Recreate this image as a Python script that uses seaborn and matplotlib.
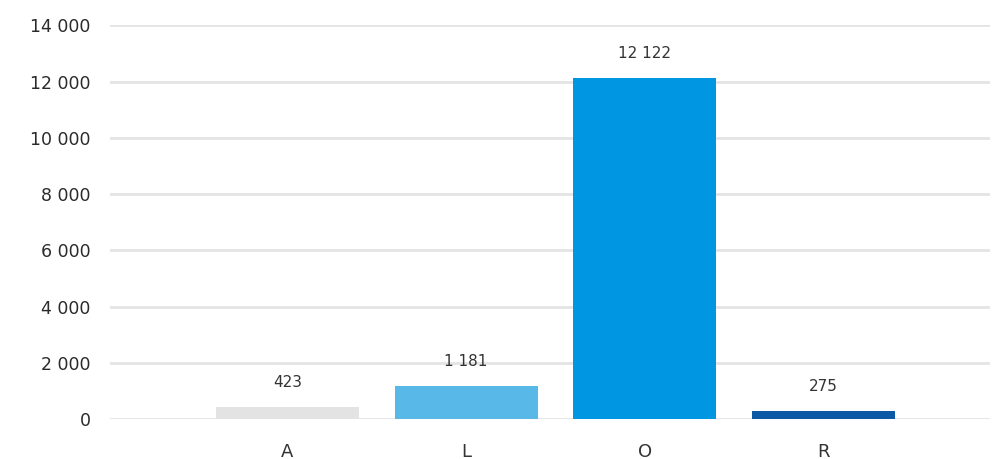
import matplotlib
matplotlib.use("Agg")
import matplotlib.pyplot as plt
import seaborn as sns
import pandas as pd

categories = ["A", "L", "O", "R"]
values = [423, 1181, 12122, 275]
bar_colors = ["#e3e3e3", "#58b8e8", "#0096e2", "#0d59a6"]
y_ticks = [0, 2000, 4000, 6000, 8000, 10000, 12000, 14000]


def fmt(v):
    return f"{v:,}".replace(",", " ")


sns.set_theme(style="white")
plt.rcParams["font.family"] = ["DejaVu Sans"]

df = pd.DataFrame({"cat": categories, "val": values})

fig = plt.figure(figsize=(9.93, 4.59), dpi=100)
ax = fig.add_axes([0.111, 0.087, 0.886, 0.858])

sns.barplot(data=df, x="cat", y="val", hue="cat", palette=bar_colors,
            legend=False, width=0.8, saturation=1, linewidth=0,
            ax=ax, zorder=3)

for i, v in enumerate(values):
    ax.text(i, v + 600, fmt(v), ha="center", va="bottom",
            fontsize=11, color="#333333")

ax.set_ylim(0, 14000)
ax.set_xlim(-0.99, 3.93)
ax.set_yticks(y_ticks)
ax.set_yticklabels([fmt(t) for t in y_ticks], fontsize=12.5,
                   color="#2b2b2b")
ax.tick_params(axis="y", length=0, pad=14)
ax.tick_params(axis="x", length=0, pad=17, labelsize=13, labelcolor="#333333")
ax.set_xlabel("")
ax.set_ylabel("")
ax.yaxis.grid(True, color="#e4e4e4", linewidth=2)
ax.set_axisbelow(True)
for s in ax.spines.values():
    s.set_visible(False)

fig.savefig("out.png", dpi=100)
